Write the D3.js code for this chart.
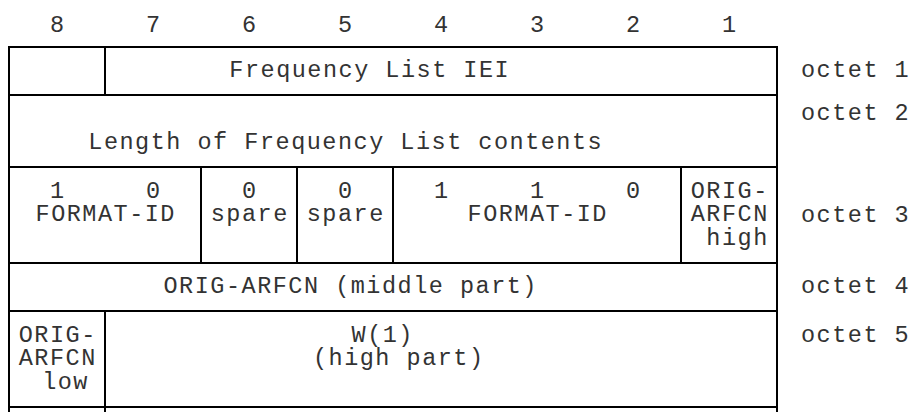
<!DOCTYPE html>
<html>
<head>
<meta charset="utf-8">
<script src="https://cdn.jsdelivr.net/npm/d3@7"></script>
<style>
  html, body { margin: 0; padding: 0; background: #fff; }
  svg { display: block; }
  text { font-family: "Liberation Mono", "Courier New", monospace; white-space: pre; }
</style>
</head>
<body>
<svg id="chart" width="915" height="412"></svg>
<script>
// ---------- data ----------
const bits = [8, 7, 6, 5, 4, 3, 2, 1];
const octetLabels = ["octet 1", "octet 2", "octet 3", "octet 4", "octet 5"];

const octet1Fields = [
  { bits: [8, 8], text: [] },
  { bits: [7, 1], text: ["Frequency List IEI"] }
];
const octet2Fields = [
  { bits: [8, 1], text: ["Length of Frequency List contents"] }
];
const octet3Fields = [
  { bits: [8, 7], text: ["FORMAT-ID"] },
  { bits: [6, 6], text: ["spare"] },
  { bits: [5, 5], text: ["spare"] },
  { bits: [4, 2], text: ["FORMAT-ID"] },
  { bits: [1, 1], text: ["ORIG-", "ARFCN", " high"] }
];
const octet3BitValues = ["1", "0", "0", "0", "1", "1", "0", ""];
const octet4Fields = [
  { bits: [8, 1], text: ["ORIG-ARFCN (middle part)"] }
];
const octet5Fields = [
  { bits: [8, 8], text: ["ORIG-", "ARFCN", " low"] },
  { bits: [7, 1], text: ["W(1)", "(high part)"] }
];
const octet6Fields = [
  { bits: [8, 8], text: [] },
  { bits: [7, 1], text: [] }
];

const rows = [octet1Fields, octet2Fields, octet3Fields, octet4Fields, octet5Fields, octet6Fields];

// ---------- layout ----------
const layout = {
  left: 9, right: 777, top: 47, unit: 24,
  rowUnits: [2, 3, 4, 2, 4, 2],
  headerBaseline: 32,
  fontSize: 23.5,
  letterSpacing: 1.5,
  lineGap: 23.3,
  rowTextDy: [30, 54, 31, 30, 31, 30],
  octetLabelDy: [30, 25, 54.5, 30, 31],
  octetLabelX: 801,
  fieldDx: { "0-1": [-72], "1-0": [-48], "3-0": [-43], "4-1": [-59, -43] },
  fieldLineStart: { "2-0": 1, "2-1": 1, "2-2": 1, "2-3": 1 },
  stroke: "#000",
  strokeWidth: 2,
  textColor: "#333"
};

const svg = d3.select("#chart");

const x = d3.scaleBand().domain(bits).range([layout.left, layout.right]).paddingInner(0).paddingOuter(0);

// cumulative row tops
const rowStartUnits = [];
let acc = 0;
layout.rowUnits.forEach(u => { rowStartUnits.push(acc); acc += u; });
const y = d3.scaleLinear().domain([0, 1]).range([layout.top, layout.top + layout.unit]);

const lsFix = layout.letterSpacing / 2; // compensate trailing letter-spacing when centred

function styleText(sel) {
  return sel
    .attr("font-size", layout.fontSize)
    .attr("letter-spacing", layout.letterSpacing)
    .attr("fill", layout.textColor);
}

// header bit numbers
svg.append("g").selectAll("text")
  .data(bits)
  .join("text")
  .attr("x", d => x(d) + x.bandwidth() / 2 + lsFix)
  .attr("y", layout.headerBaseline)
  .attr("text-anchor", "middle")
  .call(styleText)
  .text(d => d);

// cells
const cellG = svg.append("g");
rows.forEach((fields, ri) => {
  const top = y(rowStartUnits[ri]);
  const bottom = y(rowStartUnits[ri] + layout.rowUnits[ri]);
  fields.forEach((f, fi) => {
    const x0 = x(f.bits[0]);
    const x1 = x(f.bits[1]) + x.bandwidth();
    cellG.append("rect")
      .attr("x", x0).attr("y", top)
      .attr("width", x1 - x0).attr("height", bottom - top)
      .attr("fill", "none")
      .attr("stroke", layout.stroke)
      .attr("stroke-width", layout.strokeWidth);
    const key = ri + "-" + fi;
    const dxs = layout.fieldDx[key] || [];
    const lineStart = layout.fieldLineStart[key] || 0;
    const cx = (x0 + x1) / 2 + lsFix;
    cellG.append("g").selectAll("text")
      .data(f.text)
      .join("text")
      .attr("x", (d, i) => cx + (dxs[i] !== undefined ? dxs[i] : (dxs[0] || 0)))
      .attr("y", (d, i) => top + layout.rowTextDy[ri] + (i + lineStart) * layout.lineGap)
      .attr("text-anchor", "middle")
      .call(styleText)
      .text(d => d);
  });
});

// octet 3 bit values
const r3top = y(rowStartUnits[2]);
svg.append("g").selectAll("text")
  .data(bits.map((b, i) => ({ bit: b, v: octet3BitValues[i] })).filter(d => d.v !== ""))
  .join("text")
  .attr("x", d => x(d.bit) + x.bandwidth() / 2 + lsFix)
  .attr("y", r3top + layout.rowTextDy[2])
  .attr("text-anchor", "middle")
  .call(styleText)
  .text(d => d.v);

// octet labels
svg.append("g").selectAll("text")
  .data(octetLabels)
  .join("text")
  .attr("x", layout.octetLabelX)
  .attr("y", (d, i) => y(rowStartUnits[i]) + layout.octetLabelDy[i])
  .attr("text-anchor", "start")
  .call(styleText)
  .text(d => d);
</script>
</body>
</html>
